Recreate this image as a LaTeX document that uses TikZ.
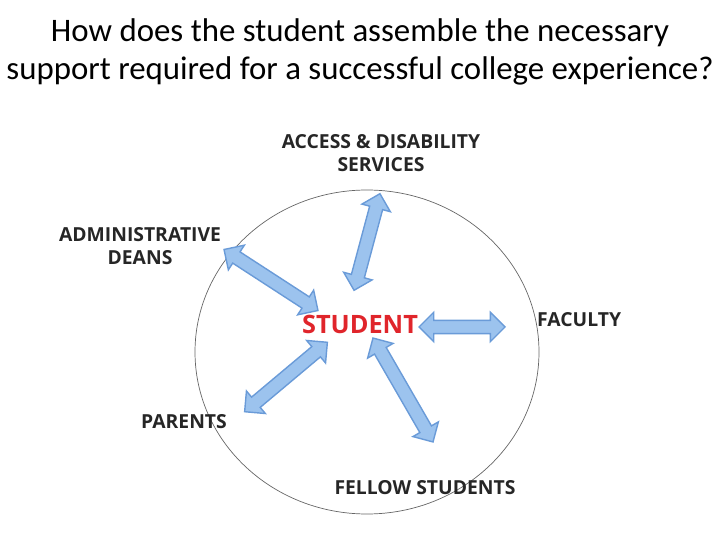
\documentclass[tikz,border=0pt]{standalone}
\usepackage{fontspec}
\setmainfont{Carlito}
\newfontfamily\labfont{Open Sans}
\usetikzlibrary{shapes.arrows}
\definecolor{arrfill}{HTML}{9CC3EE}
\definecolor{arrline}{HTML}{6A9BD8}
\definecolor{studred}{HTML}{E0252B}
\tikzset{
  arr/.style={double arrow, fill=arrfill, draw=arrline, thick, inner sep=0.12cm,
    double arrow head extend=0.16cm, minimum width=0.56cm},
  lab/.style={font=\labfont\bfseries\fontsize{11}{13.5}\selectfont, text=black!85, align=center}
}
\begin{document}
\begin{tikzpicture}[x=0.02cm,y=-0.02cm]
  \useasboundingbox (0,0) rectangle (720,540);

  \node[font=\fontsize{18.7}{22}\selectfont, align=center] (title) at (360,52)
    {How does the student assemble the necessary\\support required for a successful college experience?};

  \draw[black!60, thin] (367,352) ellipse [x radius=172, y radius=162];

  \node[lab] (access) at (381,153) {ACCESS \& DISABILITY\\SERVICES};
  \node[lab] (admin) at (140,246) {ADMINISTRATIVE\\DEANS};
  \node[lab, anchor=west] (faculty) at (531,320) {FACULTY};
  \node[lab] (parents) at (184,422) {PARENTS};
  \node[lab] (fellow) at (425,488) {FELLOW STUDENTS};
  \node[font=\labfont\bfseries\fontsize{14.4}{16}\selectfont, text=studred] (student) at (360,324) {STUDENT};

  \node[arr, minimum height=100*0.02cm, rotate=255] (aaccess) at (367,242) {};
  \node[arr, minimum height=112*0.02cm, rotate=-33] (aadmin) at (271,280) {};
  \node[arr, minimum height=86*0.02cm] (afaculty) at (462,327) {};
  \node[arr, minimum height=108*0.02cm, rotate=40] (aparents) at (286,377) {};
  \node[arr, minimum height=120*0.02cm, rotate=-60] (afellow) at (403,390) {};
\end{tikzpicture}
\end{document}
